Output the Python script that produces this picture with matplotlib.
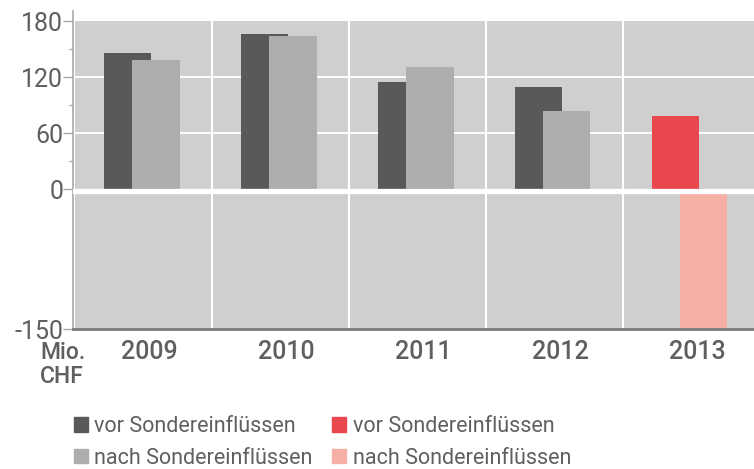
import matplotlib
matplotlib.use("Agg")
import matplotlib.pyplot as plt
from matplotlib import font_manager
from matplotlib.font_manager import FontProperties
from matplotlib.patches import Patch

# --- data -------------------------------------------------------------
years = ["2009", "2010", "2011", "2012", "2013"]
vor = [146, 166, 115, 110, 78]        # vor Sondereinflüssen
nach = [138, 164, 131, 84, -150]      # nach Sondereinflüssen
yticks = [180, 120, 60, 0, -150]
yminor = [150, 90, 30]
labels = ["vor Sondereinflüssen", "nach Sondereinflüssen"]

# --- colours ----------------------------------------------------------
c_dark, c_light = "#5a585b", "#adadad"
c_red, c_pink = "#e8474e", "#f5afa5"
c_bg, c_txt = "#cfcfcf", "#5f5f5f"


def font(filename, size):
    # pick a static font file by name, fall back to the default sans
    for f in font_manager.fontManager.ttflist:
        if f.fname.endswith("/" + filename):
            return FontProperties(fname=f.fname, size=size)
    return FontProperties(family="DejaVu Sans", size=size)


fp_tick = font("Roboto-Regular.ttf", 18)
fp_year = font("Roboto-Medium.ttf", 18)
fp_unit = font("Roboto-Medium.ttf", 16.5)
fp_leg = font("Roboto-Regular.ttf", 15.5)

fig = plt.figure(figsize=(7.54, 4.69), dpi=100)
ax = fig.add_axes([73 / 754, 140 / 469, 681 / 754, 318 / 469])
ax.set_xlim(-0.515, 4.456)
ax.set_ylim(-150, 191)

# grey plotting area
ax.axhspan(-150, 180, xmin=2 / 681, color=c_bg, lw=0, zorder=0)
for y in [60, 120]:
    ax.axhline(y, xmin=2 / 681, color="white", lw=1.3, zorder=1)
for i in range(len(years) - 1):
    ax.plot([i + 0.5, i + 0.5], [-150, 180], color="white", lw=1.5, zorder=1)

x = list(range(len(years)))
w = 0.345
n_hist = len(years) - 1
ax.bar([i - 0.115 for i in x[:n_hist]], vor[:n_hist], w, color=c_dark, zorder=2)
ax.bar([i + 0.09 for i in x[:n_hist]], nach[:n_hist], w, color=c_light, zorder=3)
ax.bar([x[-1] - 0.115], [vor[-1]], w, color=c_red, zorder=2)
ax.bar([x[-1] + 0.09], [nach[-1]], w, color=c_pink, zorder=3)

# thick zero line
ax.axhline(-1.8, xmin=2 / 681, color="white", lw=3.8, zorder=4)

# axes styling
for s in ["top", "right"]:
    ax.spines[s].set_visible(False)
ax.spines["left"].set_color("#a8a8a8")
ax.spines["left"].set_linewidth(1.2)
ax.spines["bottom"].set_color("#7a7a7a")
ax.spines["bottom"].set_linewidth(2)
ax.spines["bottom"].set_zorder(5)

ax.set_yticks(yticks)
ax.set_yticklabels([str(v) for v in yticks], fontproperties=fp_tick, color=c_txt)
ax.set_yticks(yminor, minor=True)
ax.tick_params(axis="y", which="major", length=7, width=1, color="#a8a8a8", pad=0)
ax.tick_params(axis="y", which="minor", length=3, width=1, color="#a8a8a8")

ax.set_xticks([i + 0.045 for i in x])
ax.set_xticklabels(years, fontproperties=fp_year, color=c_txt)
ax.tick_params(axis="x", length=0, pad=8)

fig.text(40 / 754, 1 - 352 / 469, "Mio.", fontproperties=fp_unit, color=c_txt, va="center", ha="left")
fig.text(40 / 754, 1 - 376 / 469, "CHF", fontproperties=fp_unit, color=c_txt, va="center", ha="left")

handles = [Patch(color=c_dark), Patch(color=c_light), Patch(color=c_red), Patch(color=c_pink)]
fig.legend(handles, labels + labels, ncol=2, loc="upper left",
           bbox_to_anchor=(74 / 754, 1 - 416 / 469), frameon=False,
           prop=fp_leg, labelcolor=c_txt,
           handlelength=0.65, handleheight=0.65, handletextpad=0.3,
           columnspacing=0.9, labelspacing=0.5, borderpad=0, borderaxespad=0)

fig.savefig("out.png", dpi=100)
